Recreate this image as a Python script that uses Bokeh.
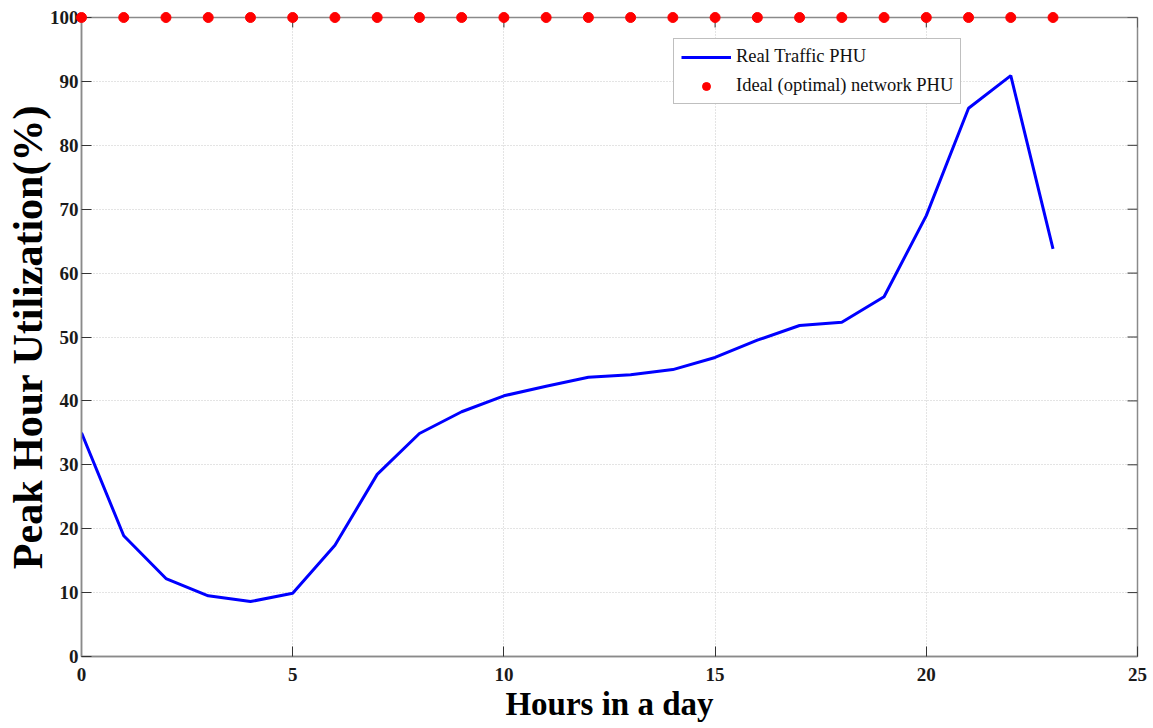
import math
from bokeh.plotting import figure
from bokeh.models import FixedTicker, Range1d, Legend, LegendItem
from bokeh.embed import file_html
from bokeh.resources import INLINE

# Hourly peak-hour utilization (%)
hours = list(range(24))
real_phu = [35.0, 18.9, 12.2, 9.5, 8.6, 9.9, 17.4, 28.5, 34.9, 38.3, 40.8, 42.3,
            43.7, 44.1, 44.9, 46.8, 49.5, 51.8, 52.3, 56.3, 69.0, 85.8, 90.9, 63.8]
ideal_phu = [100] * 24

x_ticks = [0, 5, 10, 15, 20, 25]
y_ticks = [0, 10, 20, 30, 40, 50, 60, 70, 80, 90, 100]
x_max = 25
y_max = 100

SERIF = "Liberation Serif"
FRAME = "#8a8a8a"
TICK = "#333333"
TICK_LEN = 10

p = figure(width=1153, height=728, output_backend="svg", toolbar_location=None,
           x_range=Range1d(0, x_max), y_range=Range1d(0, y_max),
           min_border_left=81, min_border_right=16, min_border_top=17,
           min_border_bottom=72, background_fill_color="white",
           border_fill_color="white")

p.outline_line_color = FRAME
p.outline_line_width = 1.5

for ax in (p.xaxis[0], p.yaxis[0]):
    ax.axis_line_color = FRAME
    ax.axis_line_width = 1.5
    ax.major_tick_in = TICK_LEN
    ax.major_tick_out = 0
    ax.minor_tick_in = 0
    ax.minor_tick_out = 0
    ax.major_tick_line_color = TICK
    ax.major_label_text_font = SERIF
    ax.major_label_text_font_size = "19px"
    ax.major_label_text_font_style = "bold"
    ax.major_label_text_color = "#1a1a1a"
    ax.axis_label_text_font = SERIF
    ax.axis_label_text_font_style = "bold"
    ax.axis_label_text_color = "#000000"

p.xaxis[0].ticker = FixedTicker(ticks=x_ticks)
p.yaxis[0].ticker = FixedTicker(ticks=y_ticks)
p.xaxis[0].axis_label = "Hours in a day"
p.xaxis[0].axis_label_text_font_size = "33px"
p.xaxis[0].major_label_standoff = 11
p.xaxis[0].axis_label_standoff = 2
p.yaxis[0].axis_label = "Peak Hour Utilization(%)"
p.yaxis[0].axis_label_text_font_size = "42px"
p.yaxis[0].major_label_standoff = 3
p.yaxis[0].axis_label_standoff = -4

# mirrored inward tick marks along the top and right edges of the box
p.ray(x=x_ticks, y=[y_max] * len(x_ticks), length=TICK_LEN, length_units="screen",
      angle=-math.pi / 2, line_color=TICK, line_width=1)
p.ray(x=[x_max] * len(y_ticks), y=y_ticks, length=TICK_LEN, length_units="screen",
      angle=math.pi, line_color=TICK, line_width=1)

p.xgrid.ticker = FixedTicker(ticks=x_ticks)
p.ygrid.ticker = FixedTicker(ticks=y_ticks)
p.grid.grid_line_color = "#c8c8c8"
p.grid.grid_line_dash = "1 2"
p.grid.grid_line_width = 1

real = p.line(hours, real_phu, line_color="#0000ff", line_width=3)
ideal = p.scatter(hours, ideal_phu, size=10, marker="circle",
                  fill_color="#ff0000", line_color="#ff0000", level="overlay")

legend = Legend(items=[LegendItem(label="Real Traffic PHU", renderers=[real]),
                       LegendItem(label="Ideal (optimal) network PHU", renderers=[ideal])],
                location=(592, 552))
legend.label_text_font = SERIF
legend.label_text_font_size = "18.5px"
legend.label_text_color = "#111111"
legend.glyph_width = 50
legend.glyph_height = 20
legend.label_height = 20
legend.spacing = 8
legend.padding = 7
legend.margin = 0
legend.label_standoff = 5
legend.border_line_color = "#808080"
legend.border_line_width = 1.5
legend.background_fill_color = "white"
legend.background_fill_alpha = 1
p.add_layout(legend, "center")

open("out.html", "w").write(file_html(p, INLINE))
